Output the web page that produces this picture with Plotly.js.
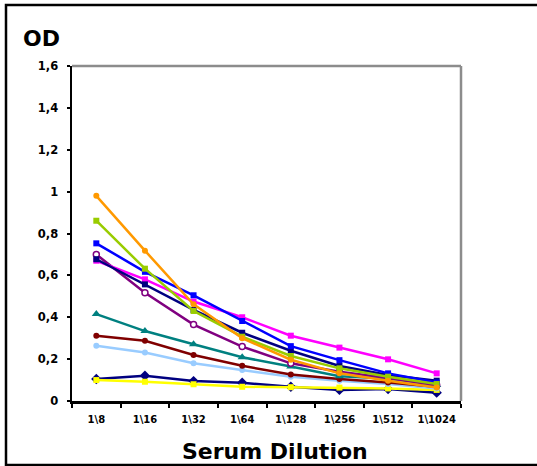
<!DOCTYPE html>
<html><head><meta charset="utf-8">
<script src="https://cdn.plot.ly/plotly-3.0.1.min.js"></script>
<style>html,body{margin:0;padding:0;background:#fff;}#chart{width:537px;height:466px;}</style>
</head><body><div id="chart"></div>
<script>
const dilutions = ["1\\8","1\\16","1\\32","1\\64","1\\128","1\\256","1\\512","1\\1024"];
const navyDiamond = [0.105,0.121,0.095,0.087,0.068,0.053,0.057,0.040];
const magenta     = [0.670,0.581,0.475,0.400,0.312,0.255,0.199,0.132];
const yellow      = [0.100,0.092,0.080,0.068,0.066,0.064,0.060,0.053];
const lightBlue   = [0.264,0.232,0.180,0.148,0.116,0.097,0.081,0.060];
const purple      = [0.700,0.517,0.365,0.260,0.180,0.140,0.110,0.075];
const darkRed     = [0.312,0.288,0.220,0.168,0.127,0.105,0.088,0.068];
const teal        = [0.415,0.334,0.271,0.209,0.165,0.118,0.108,0.076];
const navySquare  = [0.677,0.557,0.435,0.326,0.240,0.167,0.124,0.097];
const blue        = [0.753,0.617,0.505,0.382,0.262,0.195,0.132,0.088];
const green       = [0.861,0.632,0.430,0.307,0.215,0.156,0.116,0.081];
const orange      = [0.980,0.718,0.462,0.300,0.197,0.132,0.097,0.065];

function tr(y, color, symbol, fill){
  return {x: dilutions, y: y, type:'scatter', mode:'lines+markers',
    line:{color:color, width:2.5},
    marker:{symbol:symbol, size:symbol==='diamond'?8:(symbol==='triangle-up'?8:6), color: fill||color, line:{color:color, width: fill?1.5:0}},
    showlegend:false, cliponaxis:false};
}
const data = [
  tr(navyDiamond,'#000080','diamond'),
  tr(yellow,'#FFFF00','square'),
  tr(lightBlue,'#99CCFF','circle'),
  tr(darkRed,'#800000','circle'),
  tr(teal,'#008080','triangle-up'),
  tr(purple,'#800080','circle','#FFFFFF'),
  tr(magenta,'#FF00FF','square'),
  tr(navySquare,'#000080','square'),
  tr(blue,'#0000FF','square'),
  tr(green,'#99CC00','square'),
  tr(orange,'#FF9900','circle')
];
const F = 'DejaVu Sans, Verdana, sans-serif';
const layout = {
  width:537, height:466,
  margin:{l:72, r:76, t:66, b:65},
  paper_bgcolor:'#fff', plot_bgcolor:'#fff',
  separators: ',.',
  font:{family:F, color:'#000'},
  xaxis:{type:'category', range:[-0.5,7.5], showgrid:false, zeroline:false,
    showline:true, linecolor:'#000', linewidth:2.5,
    ticks:'outside', tickson:'boundaries', ticklen:4, tickwidth:2, tickcolor:'#000',
    ticklabelstandoff:7, tickangle:0,
    tickfont:{family:F, size:10, color:'#000', weight:'bold'}, fixedrange:true},
  yaxis:{range:[0,1.6], dtick:0.2, showgrid:false, zeroline:false,
    showline:true, linecolor:'#000', linewidth:2.5,
    ticks:'outside', ticklen:3, tickwidth:2, tickcolor:'#000',
    ticklabelstandoff:6,
    tickfont:{family:F, size:11.5, color:'#000', weight:'bold'}, fixedrange:true},
  shapes:[
    {type:'line', xref:'paper', yref:'paper', x0:0, x1:1, y0:1, y1:1, line:{color:'#8c8c8c', width:2.5}},
    {type:'line', xref:'paper', yref:'paper', x0:1, x1:1, y0:0, y1:1, line:{color:'#8c8c8c', width:2.5}},
    {type:'rect', xref:'paper', yref:'paper', x0:(6-72)/389, x1:(560-72)/389, y0:(401-465)/335, y1:(401-5)/335, line:{color:'#000', width:2.5}}
  ],
  annotations:[
    {text:'OD', xref:'paper', yref:'paper', x:(21-72)/389, y:(401-39)/335, xanchor:'left', yanchor:'middle', showarrow:false,
      font:{family:F, size:22, color:'#000', weight:'bold'}},
    {text:'Serum Dilution', xref:'paper', yref:'paper', x:(275-72)/389, y:(401-451)/335, xanchor:'center', yanchor:'middle', showarrow:false,
      font:{family:F, size:22, color:'#000', weight:'bold'}}
  ]
};
Plotly.newPlot('chart', data, layout, {staticPlot:true});
</script></body></html>
